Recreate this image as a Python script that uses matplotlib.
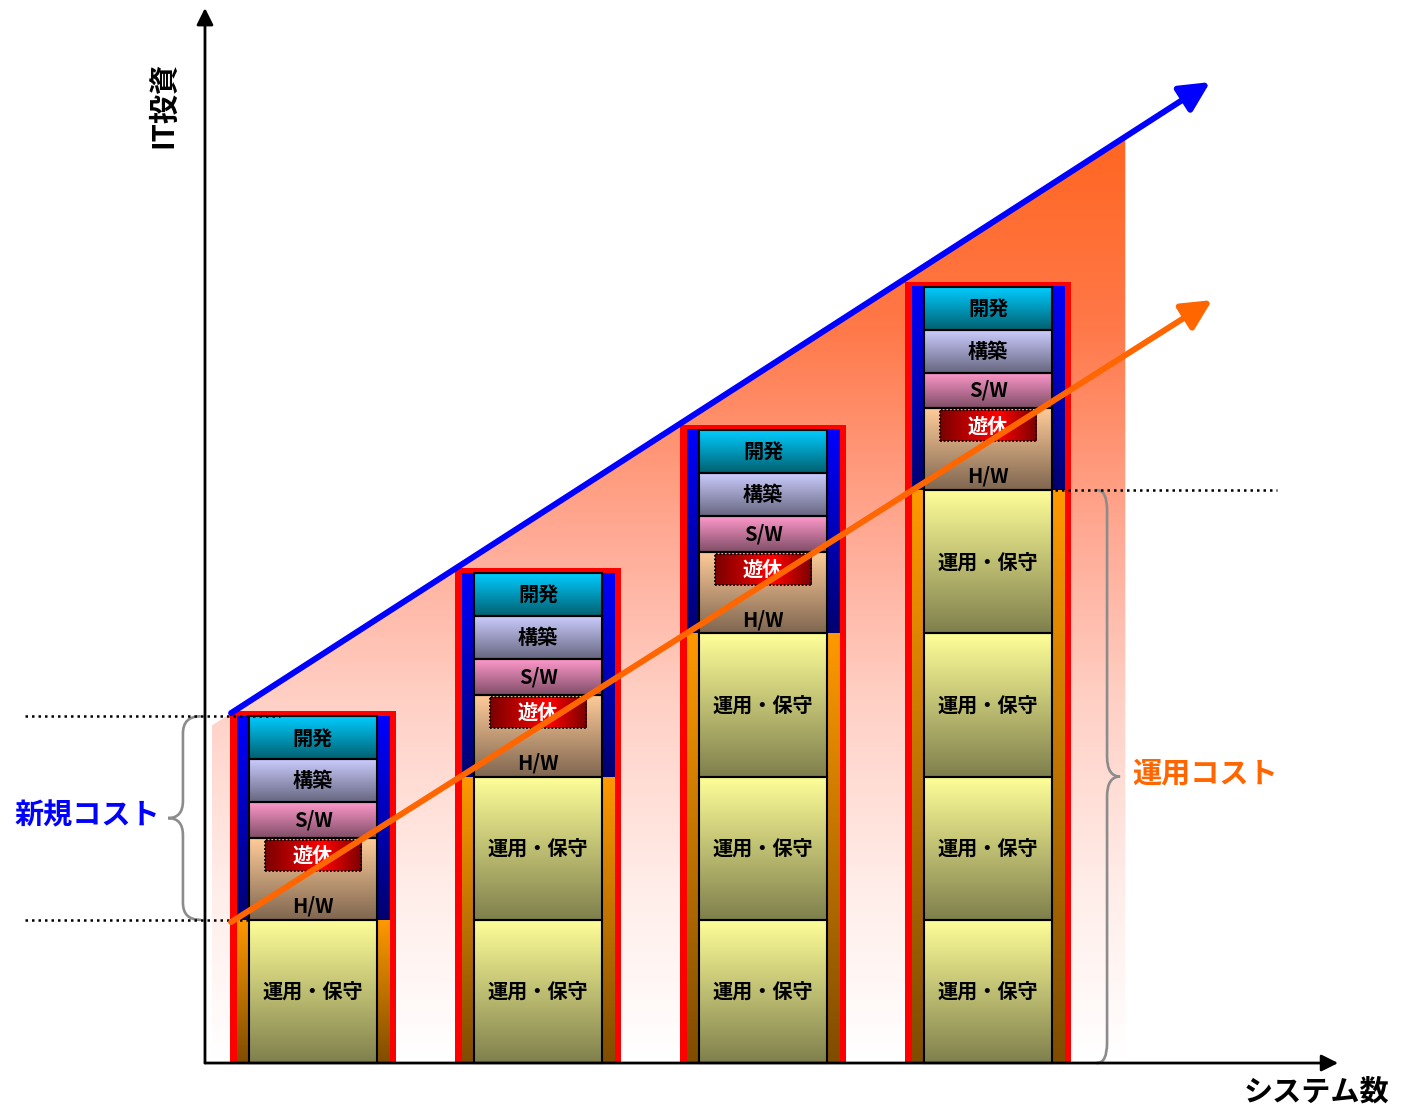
import numpy as np
import matplotlib
matplotlib.use("Agg")
import matplotlib.pyplot as plt
from matplotlib.colors import LinearSegmentedColormap
from matplotlib.patches import Rectangle, Polygon, PathPatch
from matplotlib.path import Path

plt.rcParams['font.family'] = ['Noto Sans CJK JP', 'DejaVu Sans']

# data: number of systems, operation blocks per bar, new-cost layers
systems = [1, 2, 3, 4]
ops_blocks = [1, 2, 3, 4]
ops_label = "運用・保守"
new_layers = ["H/W", "S/W", "構築", "開発"]
new_heights = [0.57, 0.25, 0.30, 0.30]
idle_label = "遊休"

# trend arrows (new cost top / operation cost)
new_trend_x = [0.636, 4.987]
new_trend_y = [2.443, 6.848]
ops_trend_x = [0.636, 4.996]
ops_trend_y = [0.984, 5.326]

layer_colors = {
    "H/W": ["#FFCC99", "#7F6650"],
    "S/W": ["#FF99CC", "#7F4D66"],
    "構築": ["#CCCCFF", "#66667F"],
    "開発": ["#00CCFF", "#006070"],
}
ops_colors = ["#FFFF99", "#7F7F4D"]

# half widths (in x units)
OUT_W = 0.367
STRIP_W = 0.338
BLOCK_W = 0.284
FONT_B = 14.5
FONT_L = 21


def grad(ax, x0, x1, y0, y1, colors, horizontal=False, z=2, clip=None):
    """draws a gradient rectangle, colors[0] on top (or left)"""
    cmap = LinearSegmentedColormap.from_list("g", colors)
    v = np.linspace(0, 1, 256)
    arr = v[None, :] if horizontal else v[::-1][:, None]
    im = ax.imshow(arr, cmap=cmap, extent=(x0, x1, y0, y1), origin='lower',
                   aspect='auto', zorder=z, interpolation='bilinear')
    if clip is not None:
        im.set_clip_path(clip)
    return im


def brace(ax, xe, xv, xt, ya, yb, ym, r=0.14):
    """curly brace from ya down to yb, tip at (xt, ym)"""
    verts = [(xe, ya), (xv, ya), (xv, ya - r),
             (xv, ym + r),
             (xv, ym), (xt, ym),
             (xv, ym), (xv, ym - r),
             (xv, yb + r),
             (xv, yb), (xe, yb)]
    codes = [Path.MOVETO, Path.CURVE3, Path.CURVE3,
             Path.LINETO,
             Path.CURVE3, Path.CURVE3,
             Path.CURVE3, Path.CURVE3,
             Path.LINETO,
             Path.CURVE3, Path.CURVE3]
    ax.add_patch(PathPatch(Path(verts, codes), fill=False, ec="#8C8C8C",
                           lw=1.9, zorder=6, capstyle='round'))


def main() -> None:
    """main function"""
    fig = plt.figure(figsize=(14.07, 11.07), dpi=100)
    ax = fig.add_axes([0, 0, 1, 1])
    ax.axis('off')

    new_total = sum(new_heights)
    slope = (new_trend_y[1] - new_trend_y[0]) / (new_trend_x[1] - new_trend_x[0])

    def blue_at(x):
        return new_trend_y[0] + slope * (x - new_trend_x[0])

    # background gradient area under the blue arrow
    xl = systems[0] - 0.45
    xr = systems[-1] + 0.61
    poly = Polygon([(xl, 0), (xl, blue_at(xl)), (xr, blue_at(xr)), (xr, 0)],
                   closed=True, fc='none', ec='none')
    ax.add_patch(poly)
    grad(ax, xl, xr, 0, blue_at(xr),
         [(0, "#FF6622"), (0.2, "#FF7848"), (0.43, "#FFAA95"),
          (0.61, "#FFD0C5"), (0.82, "#FFEEEA"), (1, "#FFFFFF")],
         z=1, clip=poly)

    # bars
    for xc, n_ops in zip(systems, ops_blocks):
        top = n_ops + new_total
        ax.add_patch(Rectangle((xc - OUT_W, 0), 2 * OUT_W, top + 0.035,
                               fc="#FF0000", ec='none', zorder=2))
        for sx in (xc - STRIP_W, xc + BLOCK_W):
            grad(ax, sx, sx + STRIP_W - BLOCK_W, 0, n_ops,
                 ["#FF9900", "#7F4C00"], z=3)
            grad(ax, sx, sx + STRIP_W - BLOCK_W, n_ops, top,
                 ["#0000FF", "#000070"], z=3)
        # operation blocks
        for k in range(n_ops):
            grad(ax, xc - BLOCK_W, xc + BLOCK_W, k, k + 1, ops_colors, z=4)
            ax.add_patch(Rectangle((xc - BLOCK_W, k), 2 * BLOCK_W, 1,
                                   fill=False, ec='k', lw=1.5, zorder=5))
            ax.text(xc, k + 0.5, ops_label, ha='center', va='center',
                    fontsize=FONT_B, fontweight='bold', zorder=6)
        # new cost layers
        y = n_ops
        for name, h in zip(new_layers, new_heights):
            grad(ax, xc - BLOCK_W, xc + BLOCK_W, y, y + h,
                 layer_colors[name], z=4)
            ax.add_patch(Rectangle((xc - BLOCK_W, y), 2 * BLOCK_W, h,
                                   fill=False, ec='k', lw=1.5, zorder=5))
            if name == "H/W":
                ax.text(xc, y + 0.095, name, ha='center', va='center',
                        fontsize=FONT_B, fontweight='bold', zorder=6)
                # idle box inside H/W
                iy1 = y + h - 0.014
                iy0 = iy1 - 0.216
                grad(ax, xc - 0.215, xc + 0.215, iy0, iy1,
                     [(0, "#7A0000"), (0.6, "#FF0000"), (1, "#7A0000")],
                     horizontal=True, z=5)
                ax.add_patch(Rectangle((xc - 0.215, iy0), 0.43, iy1 - iy0,
                                       fill=False, ec='k', lw=1.3,
                                       ls=(0, (1, 1)), zorder=6))
                ax.text(xc, (iy0 + iy1) / 2, idle_label, ha='center',
                        va='center', color='white', fontsize=FONT_B,
                        fontweight='bold', zorder=7)
            else:
                ax.text(xc, y + h / 2, name, ha='center', va='center',
                        fontsize=FONT_B, fontweight='bold', zorder=6)
            y += h

    # dotted guide lines
    dot = dict(color='k', lw=1.8, ls=(0, (1, 1.6)), zorder=8)
    first_top = ops_blocks[0] + new_total
    ax.plot([-0.28, systems[0] - 0.147], [first_top, first_top], **dot)
    ax.plot([-0.28, systems[0] - BLOCK_W], [ops_blocks[0], ops_blocks[0]], **dot)
    ax.plot([systems[-1] + 0.298, 5.284], [ops_blocks[-1], ops_blocks[-1]], **dot)

    # braces and labels
    brace(ax, 0.498, 0.422, 0.356, first_top, ops_blocks[0],
          (first_top + ops_blocks[0]) / 2, r=0.12)
    ax.text(0.32, (first_top + ops_blocks[0]) / 2 + 0.02, "新規コスト",
            ha='right', va='center', color="#0000FF", fontsize=FONT_L,
            fontweight='bold')
    brace(ax, 4.484, 4.529, 4.587, ops_blocks[-1], 0, ops_blocks[-1] / 2,
          r=0.14)
    ax.text(4.64, ops_blocks[-1] / 2 + 0.02, "運用コスト", ha='left',
            va='center', color="#FF6600", fontsize=FONT_L, fontweight='bold')

    # trend arrows
    ax.annotate("", xy=(new_trend_x[1], new_trend_y[1]),
                xytext=(new_trend_x[0], new_trend_y[0]),
                arrowprops=dict(arrowstyle='-|>,head_length=0.6,head_width=0.3',
                                color="#0000FF", lw=4.3, mutation_scale=30,
                                shrinkA=0, shrinkB=0), zorder=9)
    ax.annotate("", xy=(ops_trend_x[1], ops_trend_y[1]),
                xytext=(ops_trend_x[0], ops_trend_y[0]),
                arrowprops=dict(arrowstyle='-|>,head_length=0.6,head_width=0.3',
                                color="#FF6600", lw=4.3, mutation_scale=30,
                                shrinkA=0, shrinkB=0), zorder=10)

    # axes arrows
    ox = 0.52
    ax.annotate("", xy=(ox, 7.365), xytext=(ox, 0),
                arrowprops=dict(arrowstyle='-|>', color='k', lw=2,
                                mutation_scale=25, shrinkA=0, shrinkB=0),
                zorder=11)
    ax.annotate("", xy=(5.556, 0), xytext=(ox, 0),
                arrowprops=dict(arrowstyle='-|>', color='k', lw=2,
                                mutation_scale=25, shrinkA=0, shrinkB=0),
                zorder=11)
    ax.text(0.333, 6.688, "IT投資", rotation=90, ha='center', va='center',
            fontsize=FONT_L, fontweight='bold')
    ax.text(5.458, -0.2, "システム数", ha='center', va='center',
            fontsize=FONT_L, fontweight='bold')

    ax.set_xlim(-0.391, 5.862)
    ax.set_ylim(-0.307, 7.421)
    fig.savefig("out.png", dpi=100)


if __name__ == "__main__":
    main()
